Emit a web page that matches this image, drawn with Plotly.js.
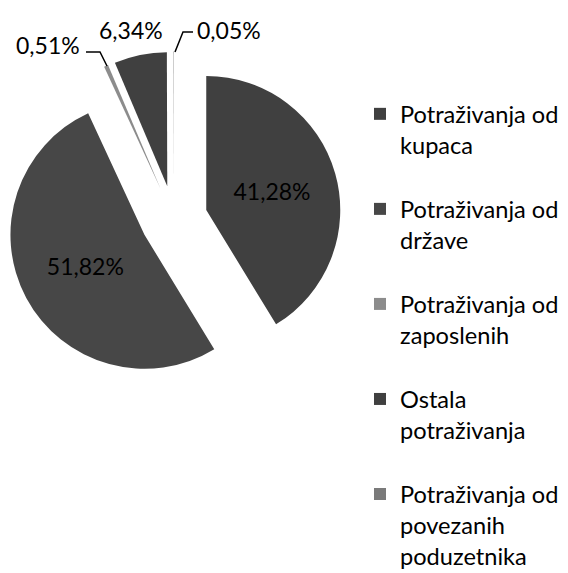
<!DOCTYPE html>
<html>
<head>
<meta charset="utf-8">
<script src="https://cdn.plot.ly/plotly-3.0.1.min.js"></script>
<style>html,body{margin:0;padding:0;background:#fff;overflow:hidden;}#chart{width:568px;height:640px;}</style>
</head>
<body>
<div id="chart"></div>
<script>
// ---- data ----
var categories = ['Potraživanja od kupaca', 'Potraživanja od države', 'Potraživanja od zaposlenih', 'Ostala potraživanja', 'Potraživanja od povezanih poduzetnika'];
var legendLabels = ['Potraživanja od<br>kupaca', 'Potraživanja od<br>države', 'Potraživanja od<br>zaposlenih', 'Ostala<br>potraživanja', 'Potraživanja od<br>povezanih<br>poduzetnika'];
var shares = [41.28, 51.82, 0.51, 6.34, 0.05];
var colors = ['#404040', '#474747', '#8c8c8c', '#404040', '#7a7a7a'];

var FONT = 'Lato, "Open Sans", sans-serif';
function pct(v){ return v.toFixed(2).replace('.', ',') + '%'; }

// the page shows the top 573 px; the canvas runs a little taller so the
// last legend entry is cut by the window edge, as in the original
var W = 568, H = 640;
function px(x){ return x / W; }
function py(y){ return 1 - y / H; }

var trace = {
  type: 'pie',
  labels: legendLabels.map(function(l){ return l + '<br> '; }),
  values: shares,
  sort: false,
  direction: 'clockwise',
  rotation: 0,
  pull: [0.25, 0.25, 0.25, 0.25, 0.25],
  marker: {colors: colors, line: {width: 0}},
  texttemplate: '%{percent:.2%}',
  textposition: ['inside', 'inside', 'none', 'none', 'none'],
  insidetextorientation: 'horizontal',
  insidetextfont: {family: FONT, size: 23, color: '#000'},
  domain: {x: [px(6.5), px(341.5)], y: [py(386.5), py(51.5)]},
  hoverinfo: 'none'
};

// small-slice labels with leader lines
var annotations = [
  {text: pct(shares[2]), x: px(48), y: py(45)},
  {text: pct(shares[3]), x: px(131), y: py(30)},
  {text: pct(shares[4]), x: px(229), y: py(30)}
].map(function(a){
  return {text: a.text, x: a.x, y: a.y, xref: 'paper', yref: 'paper', xanchor: 'center', yanchor: 'middle', showarrow: false, font: {family: FONT, size: 23, color: '#000'}};
});

function pth(pts){
  return 'M' + pts.map(function(p){ return px(p[0]) + ',' + py(p[1]); }).join(' L');
}
var shapes = [
  {type: 'path', xref: 'paper', yref: 'paper', path: pth([[86,52],[100,52],[107,66]]), line: {color: '#000', width: 1.5}},
  {type: 'path', xref: 'paper', yref: 'paper', path: pth([[193,32],[183,32],[175,52]]), line: {color: '#000', width: 1.5}}
];

var layout = {
  width: W, height: H,
  margin: {l: 0, r: 0, t: 0, b: 0},
  paper_bgcolor: '#fff',
  separators: ',.',
  font: {family: FONT, size: 23, color: '#000'},
  showlegend: true,
  legend: {
    x: px(360), y: py(92), xanchor: 'left', yanchor: 'top',
    valign: 'top', bgcolor: 'rgba(0,0,0,0)', maxheight: 1,
    font: {family: FONT, size: 23.6, color: '#000'}
  },
  annotations: annotations,
  shapes: shapes
};

Plotly.newPlot('chart', [trace], layout, {displayModeBar: false, staticPlot: true});
</script>
</body>
</html>
